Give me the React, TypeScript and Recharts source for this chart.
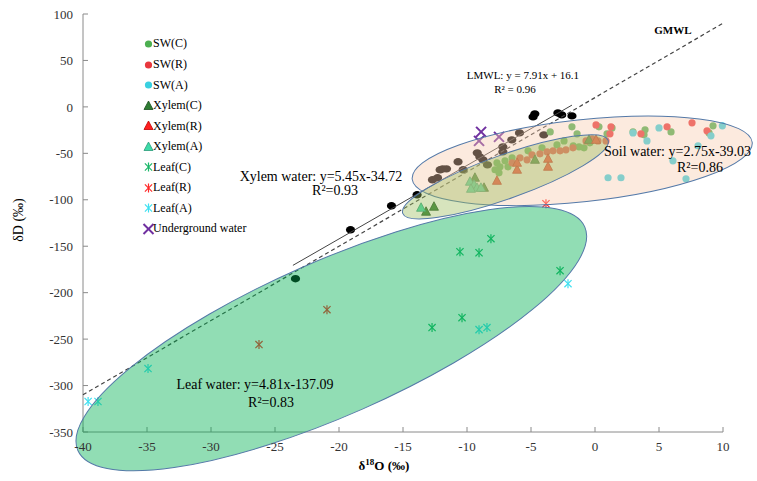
import React from "react";
import { ScatterChart, Scatter, XAxis, YAxis, ReferenceLine, ReferenceDot, Legend } from "recharts";

const xTicks = [-40, -35, -30, -25, -20, -15, -10, -5, 0, 5, 10];
const yTicks = [-350, -300, -250, -200, -150, -100, -50, 0, 50, 100];

// soil water
const swC = [
  { x: -3.5, y: -26.9 }, { x: -1.8, y: -21.5 }, { x: -1.4, y: -29 }, { x: -1.7, y: -41.9 },
  { x: -1.25, y: -43 }, { x: -0.86, y: -44.1 }, { x: -0.4, y: -38.7 }, { x: -7.66, y: -60.2 },
  { x: -7.42, y: -64.5 }, { x: -7.03, y: -58.1 }, { x: -6.8, y: -64.5 }, { x: -7.81, y: -67.7 },
  { x: -7.5, y: -71 }, { x: -6.48, y: -54.8 }, { x: -5.23, y: -47.3 }, { x: -4.14, y: -44.1 },
  { x: -2.97, y: -40.9 }, { x: -2.42, y: -36.6 }, { x: 1.33, y: -22.6 }, { x: 0.94, y: -29 },
  { x: 2.97, y: -26.9 }, { x: 3.91, y: -24.7 }, { x: 3.83, y: -30.1 }, { x: 5.94, y: -26.9 },
  { x: 9.22, y: -20.4 }, { x: 8.91, y: -28 }, { x: 0.31, y: -21.5 },
];
const swR = [
  { x: -6.48, y: -60.2 }, { x: -5.86, y: -54.8 }, { x: -5.31, y: -57 }, { x: -4.92, y: -51.6 },
  { x: -4.3, y: -50.5 }, { x: -3.75, y: -48.4 }, { x: -3.28, y: -47.3 }, { x: -2.73, y: -47.3 },
  { x: -2.27, y: -46.2 }, { x: -1.72, y: -44.1 }, { x: -0.7, y: -36.6 }, { x: -0.23, y: -34.4 },
  { x: 0.23, y: -36.6 }, { x: 0.08, y: -19.4 }, { x: 1.17, y: -29 }, { x: 0.86, y: -36.6 },
  { x: 1.25, y: -21.5 }, { x: 3.59, y: -29 }, { x: 5.63, y: -21.5 }, { x: 7.58, y: -17.2 },
  { x: 8.75, y: -25.8 },
];
const swA = [
  { x: 2.97, y: -28 }, { x: 5.0, y: -22.6 }, { x: 4.06, y: -36.6 }, { x: 8.05, y: -41.9 },
  { x: 9.06, y: -31.2 }, { x: 9.95, y: -20.4 }, { x: 6.09, y: -58.1 }, { x: 1.02, y: -76.3 },
  { x: 2.03, y: -76.3 }, { x: 7.11, y: -77.4 },
];

// xylem water
const xylemC = [
  { x: -13.2, y: -112.9 }, { x: -12.58, y: -107.5 }, { x: -9.38, y: -76.3 },
  { x: -8.67, y: -87.1 }, { x: -4.69, y: -57 }, { x: -0.47, y: -35.5 },
];
const xylemR = [
  { x: -6.09, y: -67.7 }, { x: -6.09, y: -60.2 }, { x: -3.67, y: -55.9 },
  { x: -3.67, y: -64.5 }, { x: -7.66, y: -79.6 }, { x: 0.08, y: -35.5 },
];
const xylemA = [
  { x: -9.77, y: -80.6 }, { x: -9.45, y: -83.9 }, { x: -9.22, y: -87.1 },
  { x: -9.69, y: -88.2 }, { x: -8.91, y: -87.1 }, { x: -13.59, y: -108.6 },
];

// leaf water
const leafC = [
  { x: -8.13, y: -141.9 }, { x: -10.55, y: -155.9 }, { x: -9.06, y: -157 },
  { x: -2.73, y: -176.3 }, { x: -10.39, y: -226.9 }, { x: -12.73, y: -237.6 },
];
const leafR = [{ x: -3.83, y: -104.3 }, { x: -20.94, y: -218.3 }, { x: -26.25, y: -255.9 }];
const leafA = [
  { x: -2.11, y: -190.3 }, { x: -9.06, y: -239.8 }, { x: -8.44, y: -237.6 },
  { x: -34.92, y: -281.7 }, { x: -38.83, y: -317.2 }, { x: -39.6, y: -317.2 },
];

const groundwater = [{ x: -8.9, y: -26.9 }, { x: -9.06, y: -36.6 }, { x: -7.5, y: -32.3 }];

const precipitation = [
  { x: -23.4, y: -185 }, { x: -19.1, y: -132.3 }, { x: -15.9, y: -106.5 }, { x: -13.9, y: -94.6 },
  { x: -12.7, y: -78.5 }, { x: -12.3, y: -76.3 }, { x: -12.1, y: -67.7 }, { x: -11.9, y: -66.7 },
  { x: -11.6, y: -66.7 }, { x: -10.7, y: -59.1 }, { x: -10.3, y: -67.7 }, { x: -9.2, y: -49.5 },
  { x: -9.0, y: -53.8 }, { x: -8.75, y: -57 }, { x: -8.4, y: -62.4 }, { x: -7.2, y: -43 },
  { x: -7.2, y: -48.4 }, { x: -6.5, y: -35.5 }, { x: -5.9, y: -28 }, { x: -4.0, y: -30.1 },
  { x: -4.84, y: -10.8 }, { x: -4.7, y: -7.5 }, { x: -2.9, y: -6.5 }, { x: -2.6, y: -8.6 },
  { x: -1.8, y: -9.7 },
];

const gmwl = [{ x: -40, y: -310 }, { x: 10, y: 90 }];
const lmwl = [{ x: -23.6, y: -170.6 }, { x: -1.8, y: 1.9 }];

const FONT = "'Liberation Serif', 'Times New Roman', serif";

const dot = (color: string) => (p: any) => <circle cx={p.cx} cy={p.cy} r={3.6} fill={color} />;
const blackDot = (p: any) => <ellipse cx={p.cx} cy={p.cy} rx={4.6} ry={3.7} fill="#000" />;
const tri = (fill: string, stroke: string) => (p: any) => (
  <polygon
    points={`${p.cx},${p.cy - 5} ${p.cx - 4.5},${p.cy + 3.5} ${p.cx + 4.5},${p.cy + 3.5}`}
    fill={fill}
    stroke={stroke}
    strokeWidth={0.8}
  />
);
const star = (color: string) => (p: any) => {
  const s = 4.5;
  const d = 3.6;
  return (
    <g stroke={color} strokeWidth={1.2}>
      <line x1={p.cx} y1={p.cy - s} x2={p.cx} y2={p.cy + s} />
      <line x1={p.cx - d} y1={p.cy - d} x2={p.cx + d} y2={p.cy + d} />
      <line x1={p.cx - d} y1={p.cy + d} x2={p.cx + d} y2={p.cy - d} />
    </g>
  );
};
const cross = (color: string) => (p: any) => {
  const s = 5;
  return (
    <g stroke={color} strokeWidth={2}>
      <line x1={p.cx - s} y1={p.cy - s} x2={p.cx + s} y2={p.cy + s} />
      <line x1={p.cx - s} y1={p.cy + s} x2={p.cx + s} y2={p.cy - s} />
    </g>
  );
};

const series = [
  { name: "SW(C)", data: swC, shape: dot("#4CAF50") },
  { name: "SW(R)", data: swR, shape: dot("#E8383D") },
  { name: "SW(A)", data: swA, shape: dot("#39D0E0") },
  { name: "Xylem(C)", data: xylemC, shape: tri("#2E7D32", "#1B4D1E") },
  { name: "Xylem(R)", data: xylemR, shape: tri("#FF2020", "#C00000") },
  { name: "Xylem(A)", data: xylemA, shape: tri("#3DDBA8", "#2A9A78") },
  { name: "Leaf(C)", data: leafC, shape: star("#1DB86A") },
  { name: "Leaf(R)", data: leafR, shape: star("#FF2A2A") },
  { name: "Leaf(A)", data: leafA, shape: star("#3FE0F0") },
  { name: "Underground water", data: groundwater, shape: cross("#7030A0") },
];

const ellipses = [
  { key: "soil", x: -1.0, y: -58, rx: 171, ry: 41, angle: -6.2, fill: "#F8CBAD", opacity: 0.4 },
  { key: "xylem", x: -7.0, y: -75.3, rx: 109, ry: 22, angle: -19.6, fill: "#9BBB59", opacity: 0.4 },
  { key: "leaf", x: -20.6, y: -249.5, rx: 277, ry: 77, angle: -23.8, fill: "#00B050", opacity: 0.43 },
];

const notes = [
  { x: 6.09, y: 82.8, text: "GMWL", size: 11, bold: true, anchor: "middle" },
  { x: -5.63, y: 34.4, text: "LMWL:  y = 7.91x  + 16.1", size: 11, anchor: "middle" },
  { x: -6.25, y: 19.4, text: "R² = 0.96", size: 11, anchor: "middle" },
  { x: -21.41, y: -75.3, text: "Xylem water: y=5.45x-34.72", size: 14, anchor: "middle" },
  { x: -20.31, y: -90.3, text: "R²=0.93", size: 14, anchor: "middle" },
  { x: 0.7, y: -48.4, text: "Soil water: y=2.75x-39.03", size: 14, anchor: "start" },
  { x: 8.2, y: -65.6, text: "R²=0.86", size: 14, anchor: "middle" },
  { x: -26.56, y: -298.9, text: "Leaf water: y=4.81x-137.09", size: 14, anchor: "middle" },
  { x: -25.31, y: -318.3, text: "R²=0.83", size: 14, anchor: "middle" },
];

const renderLegend = () => (
  <div style={{ fontFamily: FONT, fontSize: 12, color: "#000" }}>
    {series.map((s) => (
      <div key={s.name} style={{ height: 20.56, display: "flex", alignItems: "center", whiteSpace: "nowrap" }}>
        <svg width={9} height={12} style={{ overflow: "visible" }}>
          {s.shape({ cx: 4.5, cy: 6 })}
        </svg>
        <span>{s.name}</span>
      </div>
    ))}
  </div>
);

const renderXLabel = (props: any) => {
  const vb = props.viewBox;
  return (
    <text x={vb.x + vb.width / 2 - 19} y={vb.y + 38} textAnchor="middle" fontFamily={FONT} fontWeight="bold" fontSize={13} fill="#000">
      δ<tspan dy={-5} fontSize={9}>18</tspan>
      <tspan dy={5}>O (‰)</tspan>
    </text>
  );
};

const renderYLabel = (props: any) => {
  const vb = props.viewBox;
  const cx = vb.x - 5;
  const cy = vb.y + vb.height / 2 - 3;
  return (
    <text x={cx} y={cy} transform={`rotate(-90 ${cx} ${cy})`} textAnchor="middle" dominantBaseline="central" fontFamily={FONT} fontSize={14} fill="#000">
      δD (‰)
    </text>
  );
};

export default function App() {
  return (
    <div style={{ position: "fixed", left: 0, top: 0, width: 757, height: 481, overflow: "hidden", background: "#fff" }}>
      <ScatterChart width={757} height={481} margin={{ top: 14, right: 34, bottom: 9, left: 23 }}>
        <XAxis
          type="number"
          dataKey="x"
          domain={[-40, 10]}
          ticks={xTicks}
          interval={0}
          height={40}
          tickSize={-5}
          tickMargin={15}
          stroke="#8a8a8a"
          tick={{ fontFamily: FONT, fontSize: 13, fill: "#333" }}
          label={renderXLabel}
        />
        <YAxis
          type="number"
          dataKey="y"
          domain={[-350, 100]}
          ticks={yTicks}
          interval={0}
          width={60}
          tickSize={-5}
          tickMargin={15}
          stroke="#8a8a8a"
          tick={{ fontFamily: FONT, fontSize: 13, fill: "#333" }}
          label={renderYLabel}
        />
        <Legend
          layout="horizontal"
          verticalAlign="middle"
          align="center"
          content={renderLegend}
          wrapperStyle={{ left: 144, top: 33.7, width: 140 }}
        />
        <Scatter name="Precipitation" data={precipitation} shape={blackDot} isAnimationActive={false} />
        {series.map((s) => (
          <Scatter key={s.name} name={s.name} data={s.data} shape={s.shape} isAnimationActive={false} />
        ))}
        <ReferenceLine segment={gmwl} stroke="#444" strokeWidth={1.2} strokeDasharray="4 3" zIndex={650} />
        <ReferenceLine segment={lmwl} stroke="#444" strokeWidth={1} zIndex={650} />
        {ellipses.map((e) => (
          <ReferenceDot
            key={e.key}
            x={e.x}
            y={e.y}
            zIndex={700}
            shape={(p: any) => (
              <ellipse
                cx={p.cx}
                cy={p.cy}
                rx={e.rx}
                ry={e.ry}
                transform={`rotate(${e.angle} ${p.cx} ${p.cy})`}
                fill={e.fill}
                fillOpacity={e.opacity}
                stroke="#5479A8"
                strokeWidth={1}
              />
            )}
          />
        ))}
        {notes.map((n, i) => (
          <ReferenceDot
            key={"n" + i}
            x={n.x}
            y={n.y}
            zIndex={2100}
            shape={(p: any) => (
              <text
                x={p.cx}
                y={p.cy}
                textAnchor={n.anchor as any}
                dominantBaseline="central"
                fontFamily={FONT}
                fontSize={n.size}
                fontWeight={n.bold ? "bold" : "normal"}
                fill="#000"
              >
                {n.text}
              </text>
            )}
          />
        ))}
      </ScatterChart>
    </div>
  );
}
